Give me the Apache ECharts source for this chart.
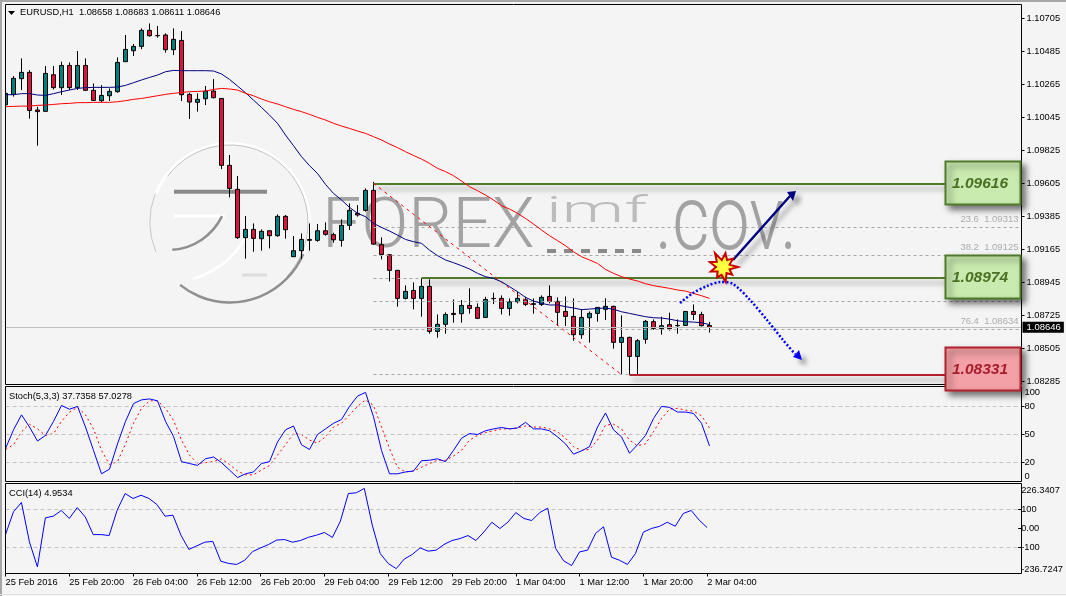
<!DOCTYPE html>
<html>
<head>
<meta charset="utf-8">
<title>EURUSD,H1</title>
<script src="https://cdn.jsdelivr.net/npm/echarts@6/dist/echarts.min.js"></script>
<style>
html,body{margin:0;padding:0;background:#f4f4f4;}
#main{width:1066px;height:596px;}
</style>
</head>
<body>
<div id="main"></div>
<script>
// 每8根K线一个时间标签
var timeLabels = ['25 Feb 2016','25 Feb 20:00','26 Feb 04:00','26 Feb 12:00','26 Feb 20:00','29 Feb 04:00','29 Feb 12:00','29 Feb 20:00','1 Mar 04:00','1 Mar 12:00','1 Mar 20:00','2 Mar 04:00'];
var priceTicks = [1.10705,1.10485,1.10265,1.10045,1.09825,1.09605,1.09385,1.09165,1.08945,1.08725,1.08505,1.08285];

var openPrice = [1.10130,1.10199,1.10304,1.10346,1.10095,1.10086,1.10330,1.10244,1.10392,1.10244,1.10392,1.10226,1.10157,1.10190,1.10217,1.10417,1.10490,1.10519,1.10626,1.10592,1.10595,1.10497,1.10559,1.10199,1.10146,1.10170,1.10221,1.10172,
	1.09726,1.09566,1.09244,1.09299,1.09237,1.09290,1.09257,1.09386,1.09117,1.09157,1.09232,1.09226,1.09290,1.09264,1.09226,1.09326,1.09406,1.09426,1.09559,1.09197,1.09130,1.09026,
	1.08839,1.08892,1.08839,1.08919,1.08619,1.08666,1.08739,1.08737,1.08792,1.08779,1.08712,1.08839,1.08839,1.08772,1.08817,1.08830,1.08804,1.08799,1.08852,1.08819,1.08752,1.08719,
	1.08597,1.08710,1.08739,1.08766,1.08786,1.08546,1.08579,1.08452,1.08566,1.08684,1.08637,1.08664,1.08659,1.08659,1.08752,1.08732,1.08658];
var closePrice = [1.10206,1.10306,1.10346,1.10092,1.10084,1.10339,1.10244,1.10392,1.10244,1.10392,1.10226,1.10159,1.10192,1.10219,1.10412,1.10499,1.10519,1.10626,1.10590,1.10590,1.10497,1.10566,1.10197,1.10148,1.10166,1.10221,1.10177,1.09726,
	1.09572,1.09244,1.09299,1.09239,1.09286,1.09257,1.09386,1.09297,1.09157,1.09232,1.09226,1.09290,1.09266,1.09230,1.09326,1.09426,1.09395,1.09559,1.09201,1.09132,1.09026,1.08839,
	1.08886,1.08839,1.08919,1.08619,1.08666,1.08732,1.08732,1.08792,1.08772,1.08706,1.08832,1.08837,1.08772,1.08817,1.08839,1.08799,1.08799,1.08846,1.08819,1.08746,1.08719,1.08597,
	1.08712,1.08739,1.08779,1.08786,1.08546,1.08579,1.08452,1.08557,1.08686,1.08639,1.08657,1.08637,1.08657,1.08752,1.08732,1.08657,1.08646];
var lowPrice = [1.10084,1.10184,1.10228,1.10037,1.09857,1.10084,1.10232,1.10195,1.10228,1.10228,1.10224,1.10155,1.10148,1.10155,1.10210,1.10415,1.10455,1.10501,1.10584,1.10577,1.10477,1.10461,1.10155,1.10035,1.10084,1.10128,1.10172,1.09701,
	1.09512,1.09235,1.09104,1.09150,1.09157,1.09172,1.09250,1.09237,1.09117,1.09101,1.09157,1.09217,1.09257,1.09210,1.09184,1.09295,1.09384,1.09417,1.09197,1.09099,1.08952,1.08784,
	1.08832,1.08766,1.08717,1.08604,1.08577,1.08604,1.08677,1.08677,1.08737,1.08701,1.08708,1.08801,1.08732,1.08724,1.08806,1.08788,1.08737,1.08788,1.08806,1.08657,1.08655,1.08557,
	1.08570,1.08544,1.08684,1.08695,1.08504,1.08331,1.08331,1.08331,1.08537,1.08630,1.08597,1.08624,1.08604,1.08655,1.08695,1.08652,1.08611];
var highPrice = [1.10232,1.10321,1.10439,1.10361,1.10117,1.10388,1.10388,1.10417,1.10412,1.10488,1.10439,1.10272,1.10261,1.10239,1.10446,1.10595,1.10535,1.10639,1.10672,1.10655,1.10606,1.10639,1.10621,1.10210,1.10206,1.10255,1.10301,1.10175,
	1.09795,1.09655,1.09388,1.09339,1.09299,1.09292,1.09399,1.09395,1.09255,1.09272,1.09339,1.09335,1.09346,1.09277,1.09366,1.09472,1.09461,1.09572,1.09616,1.09246,1.09132,1.09028,
	1.08926,1.08946,1.08975,1.08966,1.08732,1.08746,1.08832,1.08828,1.08906,1.08806,1.08850,1.08877,1.08859,1.08839,1.08884,1.08850,1.08839,1.08859,1.08926,1.08846,1.08852,1.08839,
	1.08766,1.08752,1.08779,1.08839,1.08790,1.08726,1.08584,1.08568,1.08695,1.08699,1.08717,1.08744,1.08699,1.08752,1.08799,1.08750,1.08683];

var maFast = [1.10197,1.10197,1.10204,1.10204,1.10195,1.10192,1.10204,1.10217,1.10228,1.10239,1.10244,1.10246,1.10246,1.10246,1.10248,1.10259,1.10277,1.10295,1.10312,1.10328,1.10350,1.10359,1.10357,1.10357,1.10357,1.10357,1.10355,1.10335,
	1.10299,1.10255,1.10210,1.10161,1.10112,1.10061,1.10006,1.09928,1.09857,1.09784,1.09724,1.09672,1.09599,1.09539,1.09495,1.09446,1.09406,1.09384,1.09339,1.09312,1.09288,1.09261,
	1.09232,1.09217,1.09206,1.09161,1.09124,1.09095,1.09077,1.09057,1.09035,1.09006,1.08984,1.08972,1.08950,1.08917,1.08884,1.08846,1.08821,1.08806,1.08795,1.08795,1.08784,1.08775,
	1.08764,1.08768,1.08772,1.08775,1.08766,1.08750,1.08739,1.08728,1.08717,1.08710,1.08708,1.08701,1.08690,1.08684,1.08681,1.08677,1.08664];
var maSlow = [1.10117,1.10119,1.10121,1.10121,1.10126,1.10128,1.10132,1.10137,1.10139,1.10144,1.10144,1.10146,1.10146,1.10146,1.10150,1.10157,1.10166,1.10172,1.10181,1.10190,1.10199,1.10206,1.10212,1.10217,1.10219,1.10221,1.10232,1.10239,
	1.10235,1.10228,1.10206,1.10190,1.10168,1.10150,1.10135,1.10117,1.10099,1.10084,1.10066,1.10046,1.10028,1.10006,1.09988,1.09972,1.09955,1.09939,1.09917,1.09895,1.09868,1.09844,
	1.09817,1.09792,1.09768,1.09739,1.09706,1.09684,1.09657,1.09621,1.09584,1.09557,1.09528,1.09495,1.09457,1.09435,1.09406,1.09372,1.09335,1.09295,1.09257,1.09224,1.09190,1.09150,
	1.09117,1.09095,1.09072,1.09032,1.09006,1.08984,1.08968,1.08955,1.08937,1.08924,1.08915,1.08906,1.08895,1.08888,1.08872,1.08857,1.08839];

var stochMain = [35,55,71,58,43,49,64,81,77,80,58,33,8,13,40,64,83,87,88,86,64,48,21,19,17,24,26,20,12,4,8,10,19,21,42,55,59,39,34,50,56,62,66,80,91,
	95,69,33,8,8,10,11,22,22.5,24,21,33,46,51,50,54,56,57.5,56,57,63,56,56,54,47.5,40,29,32.5,37,58,73,55,47.5,30,39,49,67,80,79,74,74,72.5,62,37.7358];
var stochSignal = [34,39,53,61,56,49,51,64,74,79,71,56,33,18,21,40,62,78,86,86,78,65,44,28,19,20,21,24,18,11,7,7,12,17,28,39,51,50,44,41,47.5,58,62,71,80,
	87,81,58,35,15,10,11,15,19,22.5,22.5,27,33,44,49,52,54,56,56,57,59,58,58,56,53,46,37,33,34,44,60,61,56,44,38,40,53,67,77,78,76,75,70,57.0278];
var cciValues = [-32,88,137,-70,-202,56,65,95,53,110,61,-32,-32,-37,96,184,158,175,158,126,65,70,-35,-110,-91,-72,-68,-172,-184,-189,-167,-121,-102,-84,-61,-58,-72,-63,-46,-35,-21,-47,39,184,188,
	211,18,-132,-184,-211,-161,-137,-102,-119,-114,-84,-63,-53,-37,-63,-18,33,0,33,84,53,42,84,107,-105,-170,-195,-123,-114,-26,9,-151,-167,-189,-132,-19,0,11,33,12,79,95,44,4.9534];

// 斐波那契水平线
var fibLevels = [1.09606,1.09313,1.09125,1.08974,1.08822,1.08634,1.08331];
var fibLabels = ['','23.6  1.09313','38.2  1.09125','','','76.4  1.08634',''];
var stochLevels = [80,50,20];
var stochTicks = [0,20,50,80,100];
var cciLevels = [100,-100];
var cciTicks = [-236.7247,-100,0,100,226.3407];
var lastPrice = 1.08646;

// 外部画的三条支撑阻力线：价格，起始K线序号，文字
var levelPrices = [1.09606,1.08974,1.08331];
var levelStarts = [46,52,78];
var levelTexts = ['1.09616','1.08974','1.08331'];

var FONT = 'Liberation Sans';
var FS = 9.3;
var BG = '#f4f4f4';
var GREEN = '#4f7a2a', REDLINE = '#b3202f';

var categories = [];
for (var i = 0; i < 128; i++) {
	categories.push(i % 8 == 0 && timeLabels[i / 8] ? timeLabels[i / 8] : '');
}
var candleData = openPrice.map(function (v, idx) {
	return [v, closePrice[idx], lowPrice[idx], highPrice[idx]];
});

function fibLines() {
	return fibLevels.map(function (v, idx) {
		return [{
			coord: [46, v],
			lineStyle: { color: '#a8a8a8', type: [3, 3], width: 1 },
			label: {
				show: !!fibLabels[idx], formatter: fibLabels[idx], position: 'insideEndTop',
				color: '#acacac', fontFamily: FONT, fontSize: 9.5, distance: 3
			}
		}, { coord: [127, v] }];
	});
}

function srLines() {
	return levelPrices.map(function (v, idx) {
		return [{
			coord: [levelStarts[idx], v],
			lineStyle: {
				color: idx == 2 ? REDLINE : GREEN, type: 'solid', width: 2,
				shadowColor: 'rgba(0,0,0,0.35)', shadowBlur: 5, shadowOffsetX: 2, shadowOffsetY: 5
			},
			label: { show: false }
		}, { coord: [118, v] }];
	});
}

// 整个窗口宽度的水平虚线
function hLevels(list) {
	return {
		silent: true, symbol: 'none', animation: false,
		lineStyle: { color: '#c4c4c4', type: [4, 3], width: 1 },
		label: { show: false },
		data: list.map(function (v) { return [{ coord: [0, v] }, { coord: [127, v] }]; })
	};
}

function xAxisOf(gridIdx, show) {
	return {
		type: 'category', gridIndex: gridIdx, data: categories, boundaryGap: false, position: 'bottom',
		axisLine: { show: false, onZero: false },
		axisTick: {
			show: show, length: 3, lineStyle: { color: '#000' },
			interval: function (idx, val) { return val !== ''; }
		},
		axisLabel: {
			show: show, color: '#000', fontFamily: FONT, fontSize: FS, margin: 4, align: 'left',
			interval: function (idx, val) { return val !== ''; },
			showMinLabel: true, hideOverlap: false
		},
		splitLine: { show: false }
	};
}

function yAxisOf(gridIdx, min, max, labelVals, tickVals, margin, fmt, edgeAlign) {
	var label = {
		customValues: labelVals, color: '#000', fontFamily: FONT, fontSize: FS, margin: margin,
		formatter: fmt, showMinLabel: true, showMaxLabel: true
	};
	if (edgeAlign) {
		label.verticalAlignMaxLabel = 'top';
		label.verticalAlignMinLabel = 'bottom';
	}
	return {
		type: 'value', gridIndex: gridIdx, position: 'right', min: min, max: max,
		axisLine: { show: false },
		axisTick: { show: true, length: 3, customValues: tickVals, lineStyle: { color: '#000' } },
		axisLabel: label,
		splitLine: { show: false }
	};
}

function watermark(text, x, y, font, sx, color) {
	return {
		type: 'text', x: x, y: y, scaleX: sx, z: 0, silent: true,
		style: {
			text: text, font: font, fill: color, textVerticalAlign: 'middle',
			shadowColor: '#ffffff', shadowBlur: 1, shadowOffsetX: -2, shadowOffsetY: -2
		}
	};
}

function ring(cx, cy, r, a0, a1, color, w) {
	return {
		type: 'arc', z: 0, silent: true,
		shape: { cx: cx, cy: cy, r: r, startAngle: a0, endAngle: a1 },
		style: { fill: 'none', stroke: color, lineWidth: w }
	};
}

function bar(x0, y0, x1, y1, color, w) {
	return {
		type: 'line', z: 0, silent: true,
		shape: { x1: x0, y1: y0, x2: x1, y2: y1 },
		style: { stroke: color, lineWidth: w }
	};
}

function frame(y, h) {
	return {
		type: 'rect', z: 20, silent: true,
		shape: { x: 5.5, y: y, width: 1016, height: h },
		style: { fill: 'none', stroke: '#000', lineWidth: 1 }
	};
}

function levelBox(y, idx) {
	var red = idx == 2;
	return [{
		type: 'rect', z: 50, silent: true,
		shape: { x: 945.5, y: y, width: 75, height: 43 },
		style: {
			fill: red ? '#f3a1a6' : '#c9ebb0', stroke: red ? REDLINE : GREEN, lineWidth: 2,
			shadowColor: 'rgba(0,0,0,0.5)', shadowBlur: 6, shadowOffsetX: 4, shadowOffsetY: 4
		}
	}, {
		type: 'text', z: 51, silent: true, x: 980, y: y + 22,
		style: {
			text: levelTexts[idx], fill: red ? '#a81e2e' : '#4a7024',
			font: 'italic bold 15.5px "' + FONT + '"', textAlign: 'center', textVerticalAlign: 'middle'
		}
	}];
}

function burst(cx, cy) {
	var radii = [15, 7, 12, 7, 15, 8, 12, 7, 13, 7, 14, 8, 16, 7, 14, 8, 13, 7];
	var pts = radii.map(function (r, idx) {
		var a = idx / radii.length * Math.PI * 2;
		return [cx + r * Math.cos(a), cy + r * Math.sin(a)];
	});
	return {
		type: 'polygon', z: 45, silent: true, shape: { points: pts },
		style: { fill: '#ffff40', stroke: '#c80000', lineWidth: 2, lineJoin: 'miter' }
	};
}

var arrowShadow = { shadowColor: 'rgba(0,0,0,0.4)', shadowBlur: 5, shadowOffsetX: 5, shadowOffsetY: 5 };
var graphics = [
	{ type: 'polyline', z: 60, silent: true, shape: { points: [[1, 596], [1, 1], [1066, 1]] }, style: { fill: 'none', stroke: '#a6a6a6', lineWidth: 2 } },
	{ type: 'line', z: 60, silent: true, shape: { x1: 0, y1: 594.5, x2: 1066, y2: 594.5 }, style: { stroke: '#e2e2e2', lineWidth: 1 } },
	{ type: 'rect', z: 19, silent: true, shape: { x: 2, y: 4, width: 3.5, height: 381 }, style: { fill: BG } },
	{ type: 'polygon', z: 30, silent: true, shape: { points: [[8, 11], [15, 11], [11.5, 15]] }, style: { fill: '#000' } },
	// 水印 logo
	ring(230, 223, 79.5, -2.75, 0.9, '#ffffff', 3),
	ring(230, 223, 78, -2.5, 0.75, '#c2c2c2', 1),
	ring(230, 223, 79.5, 0.4, 2.25, '#8f8f8f', 2.5),
	ring(229, 222, 79, 2.75, 3.5, '#c8c8c8', 1),
	bar(174, 191.7, 267, 191.7, '#8a8a8a', 4),
	bar(174, 216, 225, 216, '#ffffff', 3),
	bar(242, 275, 267, 275, '#dddddd', 3),
	ring(168, 190, 60, 0.45, 1.5, '#8f8f8f', 2.5),
	ring(170, 196, 86, 0.35, 1.3, '#ffffff', 2.5),
	watermark('FOREX', 322, 229, '300 71px Roboto', 0.98, '#a2a2a2'),
	watermark('imf', 546, 213, '300 37px Roboto', 1.9, '#bcbcbc'),
	watermark('.cov.', 655, 226, '300 90px Roboto', 0.8, '#a2a2a2'),
	{ type: 'line', z: 0, silent: true, shape: { x1: 547, y1: 251, x2: 642, y2: 251 }, style: { stroke: '#8a8a8a', lineWidth: 4, lineDash: [9, 8] } },
	frame(4.5, 380), frame(386.5, 95), frame(483.5, 90),
	// 手工标注
	{ type: 'polyline', z: 40, silent: true, shape: { points: [[733, 260], [790, 196]] }, style: Object.assign({ fill: 'none', stroke: '#000080', lineWidth: 2.5 }, arrowShadow) },
	{ type: 'polygon', z: 41, silent: true, shape: { points: [[796, 191], [787, 192], [793, 201]] }, style: Object.assign({ fill: '#000080' }, arrowShadow) },
	{
		type: 'polyline', z: 40, silent: true,
		shape: { smooth: 0.3, points: [[680, 303], [693, 293], [707, 286], [720, 282], [733, 284], [750, 300], [767, 320], [783, 340], [795, 354]] },
		style: { fill: 'none', stroke: '#0000ff', lineWidth: 2.5, lineDash: [2, 2] }
	},
	{ type: 'polygon', z: 41, silent: true, shape: { points: [[802, 360], [793, 357], [799, 350]] }, style: Object.assign({ fill: '#0000ff' }, arrowShadow) },
	burst(723, 267)
].concat(levelBox(161.5, 0), levelBox(255.5, 1), levelBox(347.5, 2));

var titleStyle = { fontFamily: FONT, fontSize: FS, fontWeight: 'normal', color: '#000' };
var option = {
	animation: false,
	backgroundColor: BG,
	textStyle: { fontFamily: FONT },
	title: [
		{ text: 'EURUSD,H1  1.08658 1.08683 1.08611 1.08646', left: 20, top: 8, padding: 0, textStyle: titleStyle },
		{ text: 'Stoch(5,3,3) 37.7358 57.0278', left: 9, top: 392, padding: 0, textStyle: titleStyle },
		{ text: 'CCI(14) 4.9534', left: 9, top: 489, padding: 0, textStyle: titleStyle }
	],
	grid: [
		{ left: 5.5, width: 1016, top: 4.5, height: 380 },
		{ left: 5.5, width: 1016, top: 387.7, height: 93.6 },
		{ left: 5.5, width: 1016, top: 485.5, height: 88 }
	],
	xAxis: [xAxisOf(0, false), xAxisOf(1, false), xAxisOf(2, true)],
	yAxis: [
		yAxisOf(0, 1.08265, 1.107983, priceTicks, priceTicks, 5, function (v) { return v.toFixed(5); }, false),
		yAxisOf(1, 0, 100, stochTicks, stochLevels, 3, function (v) { return String(v); }, true),
		yAxisOf(2, cciTicks[0], cciTicks[4], cciTicks, [100, 0, -100], 3, function (v) { return v == 0 ? '0.00' : String(v); }, true)
	],
	graphic: graphics,
	series: [
		{
			name: 'EURUSD', type: 'candlestick', xAxisIndex: 0, yAxisIndex: 0, data: candleData, barWidth: 4, clip: true,
			itemStyle: { color: '#007f7f', color0: '#dc143c', borderColor: '#000', borderColor0: '#000', borderColorDoji: '#000', borderWidth: 1 }
		},
		{ name: 'MA fast', type: 'line', xAxisIndex: 0, yAxisIndex: 0, data: maFast, showSymbol: false, lineStyle: { color: '#000080', width: 1 }, z: 5 },
		{ name: 'MA slow', type: 'line', xAxisIndex: 0, yAxisIndex: 0, data: maSlow, showSymbol: false, lineStyle: { color: '#ff0000', width: 1 }, z: 5 },
		{
			name: 'levels', type: 'line', xAxisIndex: 0, yAxisIndex: 0, data: [], z: 1,
			markLine: { silent: true, symbol: 'none', animation: false, data: fibLines() }
		},
		{
			name: 'support', type: 'line', xAxisIndex: 0, yAxisIndex: 0, data: [], z: 3,
			markLine: {
				silent: true, symbol: 'none', animation: false,
				data: srLines().concat([[
					{ coord: [46, levelPrices[0]], lineStyle: { color: '#ff0000', type: [3, 4], width: 1 }, label: { show: false } },
					{ coord: [77, levelPrices[2]] }
				]])
			}
		},
		{
			name: 'last', type: 'line', xAxisIndex: 0, yAxisIndex: 0, data: [], z: 1,
			markLine: {
				silent: true, symbol: 'none', animation: false,
				lineStyle: { color: '#c0c0c0', type: 'solid', width: 1 },
				label: { formatter: '1.08646', position: 'end', distance: 1, color: '#fff', backgroundColor: '#000', fontFamily: FONT, fontSize: 9.5, padding: [1, 3, 0, 4] },
				data: [[{ coord: [0, lastPrice] }, { coord: [127, lastPrice] }]]
			}
		},
		{ name: 'Stoch', type: 'line', xAxisIndex: 1, yAxisIndex: 1, data: stochMain, showSymbol: false, lineStyle: { color: '#0000ff', width: 1 }, z: 5, markLine: hLevels(stochLevels) },
		{ name: 'Signal', type: 'line', xAxisIndex: 1, yAxisIndex: 1, data: stochSignal, showSymbol: false, lineStyle: { color: '#ff0000', width: 1, type: [2, 3] }, z: 4 },
		{ name: 'CCI', type: 'line', xAxisIndex: 2, yAxisIndex: 2, data: cciValues, showSymbol: false, lineStyle: { color: '#0000ff', width: 1 }, z: 5, markLine: hLevels(cciLevels) }
	]
};

var chart = echarts.init(document.getElementById('main'), null, { renderer: 'canvas' });
chart.setOption(option);
</script>
</body>
</html>
